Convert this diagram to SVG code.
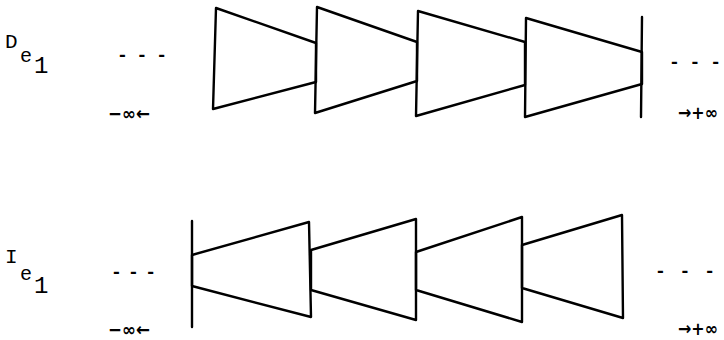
<svg xmlns="http://www.w3.org/2000/svg" width="724" height="340" viewBox="0 0 724 340">
<style>
.s{fill:none;stroke:#000;stroke-width:2.4;stroke-linejoin:round;stroke-linecap:round}
.t{font-family:"Liberation Mono","DejaVu Sans Mono",monospace;fill:#000}
.big{font-size:20px}
.sup{font-size:21px}
.sub{font-size:24px}
.d{font-family:"Liberation Mono",monospace;font-size:18px;font-weight:bold;fill:#000}
.i{font-family:"DejaVu Sans","Liberation Sans",sans-serif;font-size:18px;font-weight:bold;fill:#000}
</style>
<rect width="724" height="340" fill="#fff"/>
<g id="top-row">
<g id="label-De1" class="t">
<text class="sup" x="5" y="48">D</text>
<text class="big" x="20" y="62">e</text>
<text class="sub" x="34" y="73">1</text>
</g>
<text class="d" x="117" y="61" textLength="50" lengthAdjust="spacing">- - -</text>
<text class="i" x="108" y="120" textLength="42" lengthAdjust="spacingAndGlyphs">−∞←</text>
<g id="top-cells">
<polygon id="d1" class="s" points="216,8 316,43 316,82 213,109"/>
<polygon id="d2" class="s" points="317,7 417,42 417,81 315,113"/>
<polygon id="d3" class="s" points="418,11 525,42 525,85 416,116"/>
<polygon id="d4" class="s" points="526,18 642,52 642,84 525,117"/>
<line id="d-wall" class="s" x1="642" y1="17" x2="641" y2="117"/>
</g>
<text class="d" x="669" y="68" textLength="52" lengthAdjust="spacing">- - -</text>
<text class="i" x="678" y="119" textLength="40" lengthAdjust="spacingAndGlyphs">→+∞</text>
</g>
<g id="bottom-row">
<g id="label-Ie1" class="t">
<text class="sup" x="5" y="263">I</text>
<text class="big" x="20" y="280">e</text>
<text class="sub" x="34" y="293">1</text>
</g>
<text class="d" x="111" y="278" textLength="45" lengthAdjust="spacing">- - -</text>
<text class="i" x="108" y="336" textLength="42" lengthAdjust="spacingAndGlyphs">−∞←</text>
<g id="bottom-cells">
<line id="i-wall" class="s" x1="192" y1="221" x2="192" y2="327"/>
<polygon id="i1" class="s" points="192,255 309,222 311,317 192,286"/>
<polygon id="i2" class="s" points="311,250 416,219 416,320 311,290"/>
<polygon id="i3" class="s" points="416,252 522,217 522,322 416,290"/>
<polygon id="i4" class="s" points="522,245 622,215 623,318 522,288"/>
</g>
<text class="d" x="655" y="277" textLength="60" lengthAdjust="spacing">- - -</text>
<text class="i" x="678" y="335" textLength="40" lengthAdjust="spacingAndGlyphs">→+∞</text>
</g>
</svg>
